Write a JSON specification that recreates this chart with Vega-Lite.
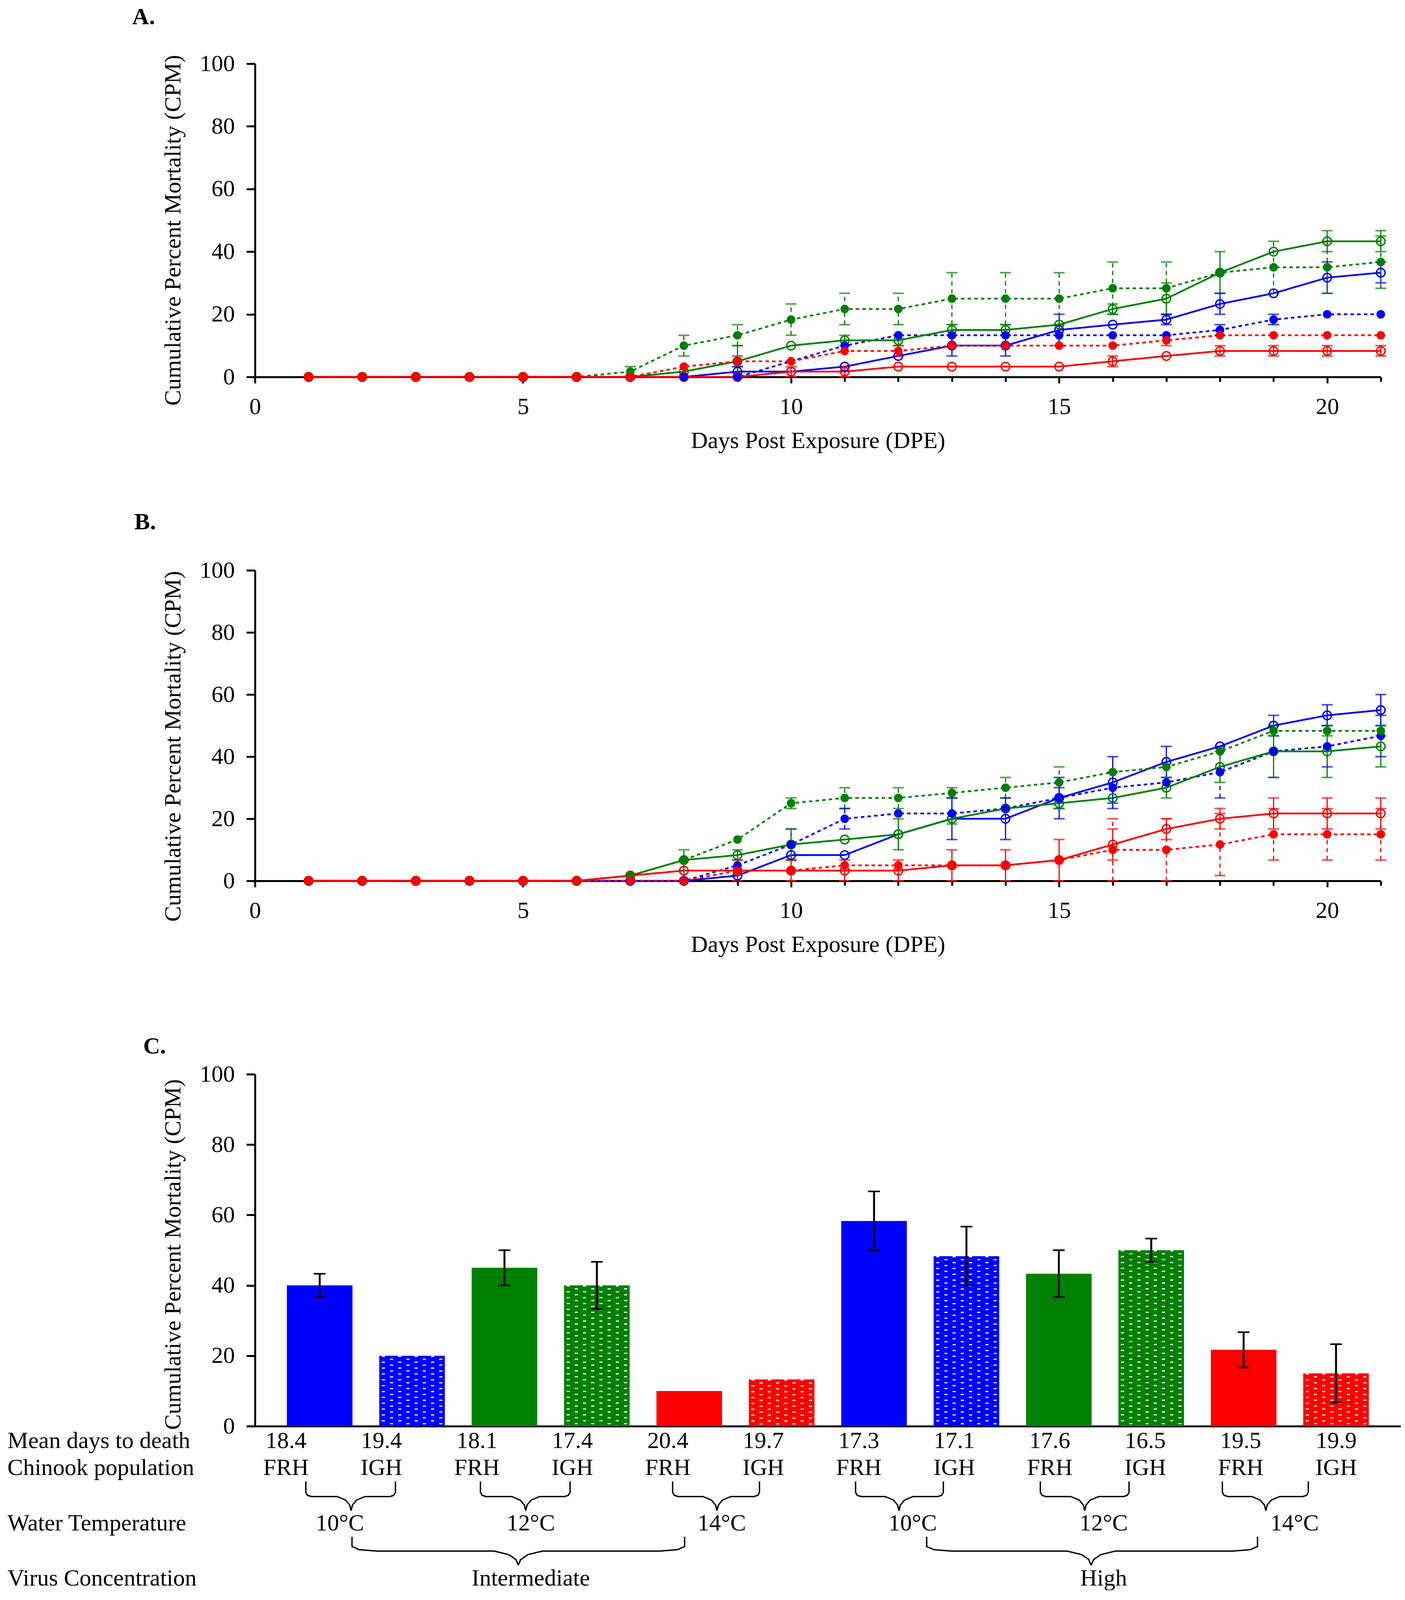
{
"$schema": "https://vega.github.io/schema/vega-lite/v6.json",
"background": "white",
"padding": {"left": 18, "top": 13, "right": 0, "bottom": 0},
"bounds": "flush",
"spacing": 495,
"resolve": {"scale": {"color": "independent"}},
"config": {
  "view": {"stroke": null},
  "font": "Liberation Serif",
  "axis": {"labelFont": "Liberation Serif", "titleFont": "Liberation Serif", "labelFontSize": 60, "titleFontSize": 60, "titleFontWeight": "normal", "labelColor": "#000", "titleColor": "#000", "domainColor": "#000", "tickColor": "#000", "domainWidth": 5, "tickWidth": 5, "grid": false, "labelFlush": false, "labelOverlap": false},
  "text": {"font": "Liberation Serif", "fontSize": 60, "color": "#000"}
},
"datasets": {
"curves": [
{"p":"A","s":"10°C FRH","pop":"FRH","d":1,"v":0},{"p":"A","s":"10°C FRH","pop":"FRH","d":2,"v":0},{"p":"A","s":"10°C FRH","pop":"FRH","d":3,"v":0},{"p":"A","s":"10°C FRH","pop":"FRH","d":4,"v":0},{"p":"A","s":"10°C FRH","pop":"FRH","d":5,"v":0},{"p":"A","s":"10°C FRH","pop":"FRH","d":6,"v":0},{"p":"A","s":"10°C FRH","pop":"FRH","d":7,"v":0},{"p":"A","s":"10°C FRH","pop":"FRH","d":8,"v":0},
{"p":"A","s":"10°C FRH","pop":"FRH","d":9,"v":1.7,"lo":0,"hi":3.3},{"p":"A","s":"10°C FRH","pop":"FRH","d":10,"v":1.7},{"p":"A","s":"10°C FRH","pop":"FRH","d":11,"v":3.3},{"p":"A","s":"10°C FRH","pop":"FRH","d":12,"v":6.7},
{"p":"A","s":"10°C FRH","pop":"FRH","d":13,"v":10,"lo":6.7,"hi":13.3},{"p":"A","s":"10°C FRH","pop":"FRH","d":14,"v":10,"lo":6.7,"hi":13.3},{"p":"A","s":"10°C FRH","pop":"FRH","d":15,"v":15,"lo":10,"hi":20},{"p":"A","s":"10°C FRH","pop":"FRH","d":16,"v":16.7},
{"p":"A","s":"10°C FRH","pop":"FRH","d":17,"v":18.3,"lo":16.7,"hi":20},{"p":"A","s":"10°C FRH","pop":"FRH","d":18,"v":23.3,"lo":20,"hi":26.7},{"p":"A","s":"10°C FRH","pop":"FRH","d":19,"v":26.7},{"p":"A","s":"10°C FRH","pop":"FRH","d":20,"v":31.7,"lo":26.7,"hi":36.7},{"p":"A","s":"10°C FRH","pop":"FRH","d":21,"v":33.3,"lo":30,"hi":36.7},

{"p":"A","s":"10°C IGH","pop":"IGH","d":1,"v":0},{"p":"A","s":"10°C IGH","pop":"IGH","d":2,"v":0},{"p":"A","s":"10°C IGH","pop":"IGH","d":3,"v":0},{"p":"A","s":"10°C IGH","pop":"IGH","d":4,"v":0},{"p":"A","s":"10°C IGH","pop":"IGH","d":5,"v":0},{"p":"A","s":"10°C IGH","pop":"IGH","d":6,"v":0},{"p":"A","s":"10°C IGH","pop":"IGH","d":7,"v":0},{"p":"A","s":"10°C IGH","pop":"IGH","d":8,"v":0},{"p":"A","s":"10°C IGH","pop":"IGH","d":9,"v":0},
{"p":"A","s":"10°C IGH","pop":"IGH","d":10,"v":5},{"p":"A","s":"10°C IGH","pop":"IGH","d":11,"v":10},{"p":"A","s":"10°C IGH","pop":"IGH","d":12,"v":13.3},{"p":"A","s":"10°C IGH","pop":"IGH","d":13,"v":13.3},{"p":"A","s":"10°C IGH","pop":"IGH","d":14,"v":13.3},{"p":"A","s":"10°C IGH","pop":"IGH","d":15,"v":13.3},{"p":"A","s":"10°C IGH","pop":"IGH","d":16,"v":13.3},{"p":"A","s":"10°C IGH","pop":"IGH","d":17,"v":13.3},
{"p":"A","s":"10°C IGH","pop":"IGH","d":18,"v":15,"lo":13.3,"hi":16.7},{"p":"A","s":"10°C IGH","pop":"IGH","d":19,"v":18.3,"lo":16.7,"hi":20},{"p":"A","s":"10°C IGH","pop":"IGH","d":20,"v":20},{"p":"A","s":"10°C IGH","pop":"IGH","d":21,"v":20},

{"p":"A","s":"12°C FRH","pop":"FRH","d":1,"v":0},{"p":"A","s":"12°C FRH","pop":"FRH","d":2,"v":0},{"p":"A","s":"12°C FRH","pop":"FRH","d":3,"v":0},{"p":"A","s":"12°C FRH","pop":"FRH","d":4,"v":0},{"p":"A","s":"12°C FRH","pop":"FRH","d":5,"v":0},{"p":"A","s":"12°C FRH","pop":"FRH","d":6,"v":0},{"p":"A","s":"12°C FRH","pop":"FRH","d":7,"v":0},
{"p":"A","s":"12°C FRH","pop":"FRH","d":8,"v":1.7},{"p":"A","s":"12°C FRH","pop":"FRH","d":9,"v":5,"lo":0,"hi":10},{"p":"A","s":"12°C FRH","pop":"FRH","d":10,"v":10},{"p":"A","s":"12°C FRH","pop":"FRH","d":11,"v":11.7,"lo":10,"hi":13.3},{"p":"A","s":"12°C FRH","pop":"FRH","d":12,"v":11.7,"lo":10,"hi":13.3},
{"p":"A","s":"12°C FRH","pop":"FRH","d":13,"v":15,"lo":13.3,"hi":16.7},{"p":"A","s":"12°C FRH","pop":"FRH","d":14,"v":15,"lo":13.3,"hi":16.7},{"p":"A","s":"12°C FRH","pop":"FRH","d":15,"v":16.7},{"p":"A","s":"12°C FRH","pop":"FRH","d":16,"v":21.7,"lo":20,"hi":23.3},
{"p":"A","s":"12°C FRH","pop":"FRH","d":17,"v":25,"lo":20,"hi":30},{"p":"A","s":"12°C FRH","pop":"FRH","d":18,"v":33.3,"lo":26.7,"hi":40},{"p":"A","s":"12°C FRH","pop":"FRH","d":19,"v":40},{"p":"A","s":"12°C FRH","pop":"FRH","d":20,"v":43.3,"lo":40,"hi":46.7},{"p":"A","s":"12°C FRH","pop":"FRH","d":21,"v":43.3,"lo":40,"hi":46.7},

{"p":"A","s":"12°C IGH","pop":"IGH","d":1,"v":0},{"p":"A","s":"12°C IGH","pop":"IGH","d":2,"v":0},{"p":"A","s":"12°C IGH","pop":"IGH","d":3,"v":0},{"p":"A","s":"12°C IGH","pop":"IGH","d":4,"v":0},{"p":"A","s":"12°C IGH","pop":"IGH","d":5,"v":0},{"p":"A","s":"12°C IGH","pop":"IGH","d":6,"v":0},
{"p":"A","s":"12°C IGH","pop":"IGH","d":7,"v":1.7,"lo":0,"hi":3.3},{"p":"A","s":"12°C IGH","pop":"IGH","d":8,"v":10,"lo":6.7,"hi":13.3},{"p":"A","s":"12°C IGH","pop":"IGH","d":9,"v":13.3,"lo":10,"hi":16.7},{"p":"A","s":"12°C IGH","pop":"IGH","d":10,"v":18.3,"lo":13.3,"hi":23.3},
{"p":"A","s":"12°C IGH","pop":"IGH","d":11,"v":21.7,"lo":16.7,"hi":26.7},{"p":"A","s":"12°C IGH","pop":"IGH","d":12,"v":21.7,"lo":16.7,"hi":26.7},{"p":"A","s":"12°C IGH","pop":"IGH","d":13,"v":25,"lo":16.7,"hi":33.3},{"p":"A","s":"12°C IGH","pop":"IGH","d":14,"v":25,"lo":16.7,"hi":33.3},
{"p":"A","s":"12°C IGH","pop":"IGH","d":15,"v":25,"lo":16.7,"hi":33.3},{"p":"A","s":"12°C IGH","pop":"IGH","d":16,"v":28.3,"lo":20,"hi":36.7},{"p":"A","s":"12°C IGH","pop":"IGH","d":17,"v":28.3,"lo":20,"hi":36.7},{"p":"A","s":"12°C IGH","pop":"IGH","d":18,"v":33.3},
{"p":"A","s":"12°C IGH","pop":"IGH","d":19,"v":35,"lo":26.7,"hi":43.3},{"p":"A","s":"12°C IGH","pop":"IGH","d":20,"v":35,"lo":26.7,"hi":43.3},{"p":"A","s":"12°C IGH","pop":"IGH","d":21,"v":36.7,"lo":28.3,"hi":45},

{"p":"A","s":"14°C FRH","pop":"FRH","d":1,"v":0},{"p":"A","s":"14°C FRH","pop":"FRH","d":2,"v":0},{"p":"A","s":"14°C FRH","pop":"FRH","d":3,"v":0},{"p":"A","s":"14°C FRH","pop":"FRH","d":4,"v":0},{"p":"A","s":"14°C FRH","pop":"FRH","d":5,"v":0},{"p":"A","s":"14°C FRH","pop":"FRH","d":6,"v":0},{"p":"A","s":"14°C FRH","pop":"FRH","d":7,"v":0},{"p":"A","s":"14°C FRH","pop":"FRH","d":8,"v":0},{"p":"A","s":"14°C FRH","pop":"FRH","d":9,"v":0},
{"p":"A","s":"14°C FRH","pop":"FRH","d":10,"v":1.7,"lo":0,"hi":3.3},{"p":"A","s":"14°C FRH","pop":"FRH","d":11,"v":1.7,"lo":0,"hi":3.3},{"p":"A","s":"14°C FRH","pop":"FRH","d":12,"v":3.3},{"p":"A","s":"14°C FRH","pop":"FRH","d":13,"v":3.3},{"p":"A","s":"14°C FRH","pop":"FRH","d":14,"v":3.3},{"p":"A","s":"14°C FRH","pop":"FRH","d":15,"v":3.3},
{"p":"A","s":"14°C FRH","pop":"FRH","d":16,"v":5,"lo":3.3,"hi":6.7},{"p":"A","s":"14°C FRH","pop":"FRH","d":17,"v":6.7},{"p":"A","s":"14°C FRH","pop":"FRH","d":18,"v":8.3,"lo":6.7,"hi":10},{"p":"A","s":"14°C FRH","pop":"FRH","d":19,"v":8.3,"lo":6.7,"hi":10},{"p":"A","s":"14°C FRH","pop":"FRH","d":20,"v":8.3,"lo":6.7,"hi":10},{"p":"A","s":"14°C FRH","pop":"FRH","d":21,"v":8.3,"lo":6.7,"hi":10},

{"p":"A","s":"14°C IGH","pop":"IGH","d":1,"v":0},{"p":"A","s":"14°C IGH","pop":"IGH","d":2,"v":0},{"p":"A","s":"14°C IGH","pop":"IGH","d":3,"v":0},{"p":"A","s":"14°C IGH","pop":"IGH","d":4,"v":0},{"p":"A","s":"14°C IGH","pop":"IGH","d":5,"v":0},{"p":"A","s":"14°C IGH","pop":"IGH","d":6,"v":0},{"p":"A","s":"14°C IGH","pop":"IGH","d":7,"v":0},
{"p":"A","s":"14°C IGH","pop":"IGH","d":8,"v":3.3},{"p":"A","s":"14°C IGH","pop":"IGH","d":9,"v":5,"lo":3.3,"hi":6.7},{"p":"A","s":"14°C IGH","pop":"IGH","d":10,"v":5},{"p":"A","s":"14°C IGH","pop":"IGH","d":11,"v":8.3},{"p":"A","s":"14°C IGH","pop":"IGH","d":12,"v":8.3,"lo":6.7,"hi":10},
{"p":"A","s":"14°C IGH","pop":"IGH","d":13,"v":10},{"p":"A","s":"14°C IGH","pop":"IGH","d":14,"v":10},{"p":"A","s":"14°C IGH","pop":"IGH","d":15,"v":10},{"p":"A","s":"14°C IGH","pop":"IGH","d":16,"v":10},{"p":"A","s":"14°C IGH","pop":"IGH","d":17,"v":11.7,"lo":10,"hi":13.3},
{"p":"A","s":"14°C IGH","pop":"IGH","d":18,"v":13.3},{"p":"A","s":"14°C IGH","pop":"IGH","d":19,"v":13.3},{"p":"A","s":"14°C IGH","pop":"IGH","d":20,"v":13.3},{"p":"A","s":"14°C IGH","pop":"IGH","d":21,"v":13.3},

{"p":"B","s":"10°C FRH","pop":"FRH","d":1,"v":0},{"p":"B","s":"10°C FRH","pop":"FRH","d":2,"v":0},{"p":"B","s":"10°C FRH","pop":"FRH","d":3,"v":0},{"p":"B","s":"10°C FRH","pop":"FRH","d":4,"v":0},{"p":"B","s":"10°C FRH","pop":"FRH","d":5,"v":0},{"p":"B","s":"10°C FRH","pop":"FRH","d":6,"v":0},{"p":"B","s":"10°C FRH","pop":"FRH","d":7,"v":0},{"p":"B","s":"10°C FRH","pop":"FRH","d":8,"v":0},
{"p":"B","s":"10°C FRH","pop":"FRH","d":9,"v":1.7},{"p":"B","s":"10°C FRH","pop":"FRH","d":10,"v":8.3},{"p":"B","s":"10°C FRH","pop":"FRH","d":11,"v":8.3},{"p":"B","s":"10°C FRH","pop":"FRH","d":12,"v":15},
{"p":"B","s":"10°C FRH","pop":"FRH","d":13,"v":20,"lo":13.3,"hi":26.7},{"p":"B","s":"10°C FRH","pop":"FRH","d":14,"v":20,"lo":13.3,"hi":26.7},{"p":"B","s":"10°C FRH","pop":"FRH","d":15,"v":26.7,"lo":20,"hi":33.3},{"p":"B","s":"10°C FRH","pop":"FRH","d":16,"v":31.7,"lo":23.3,"hi":40},
{"p":"B","s":"10°C FRH","pop":"FRH","d":17,"v":38.3,"lo":33.3,"hi":43.3},{"p":"B","s":"10°C FRH","pop":"FRH","d":18,"v":43.3},{"p":"B","s":"10°C FRH","pop":"FRH","d":19,"v":50,"lo":46.7,"hi":53.3},{"p":"B","s":"10°C FRH","pop":"FRH","d":20,"v":53.3,"lo":50,"hi":56.7},{"p":"B","s":"10°C FRH","pop":"FRH","d":21,"v":55,"lo":50,"hi":60},

{"p":"B","s":"10°C IGH","pop":"IGH","d":1,"v":0},{"p":"B","s":"10°C IGH","pop":"IGH","d":2,"v":0},{"p":"B","s":"10°C IGH","pop":"IGH","d":3,"v":0},{"p":"B","s":"10°C IGH","pop":"IGH","d":4,"v":0},{"p":"B","s":"10°C IGH","pop":"IGH","d":5,"v":0},{"p":"B","s":"10°C IGH","pop":"IGH","d":6,"v":0},{"p":"B","s":"10°C IGH","pop":"IGH","d":7,"v":0},{"p":"B","s":"10°C IGH","pop":"IGH","d":8,"v":0},
{"p":"B","s":"10°C IGH","pop":"IGH","d":9,"v":5},{"p":"B","s":"10°C IGH","pop":"IGH","d":10,"v":11.7,"lo":6.7,"hi":16.7},{"p":"B","s":"10°C IGH","pop":"IGH","d":11,"v":20,"lo":16.7,"hi":23.3},{"p":"B","s":"10°C IGH","pop":"IGH","d":12,"v":21.7},{"p":"B","s":"10°C IGH","pop":"IGH","d":13,"v":21.7},{"p":"B","s":"10°C IGH","pop":"IGH","d":14,"v":23.3},
{"p":"B","s":"10°C IGH","pop":"IGH","d":15,"v":26.7,"lo":23.3,"hi":30},{"p":"B","s":"10°C IGH","pop":"IGH","d":16,"v":30,"lo":25,"hi":35},{"p":"B","s":"10°C IGH","pop":"IGH","d":17,"v":31.7},{"p":"B","s":"10°C IGH","pop":"IGH","d":18,"v":35,"lo":26.7,"hi":43.3},
{"p":"B","s":"10°C IGH","pop":"IGH","d":19,"v":41.7,"lo":33.3,"hi":50},{"p":"B","s":"10°C IGH","pop":"IGH","d":20,"v":43.3,"lo":36.7,"hi":50},{"p":"B","s":"10°C IGH","pop":"IGH","d":21,"v":46.7,"lo":40,"hi":53.3},

{"p":"B","s":"12°C FRH","pop":"FRH","d":1,"v":0},{"p":"B","s":"12°C FRH","pop":"FRH","d":2,"v":0},{"p":"B","s":"12°C FRH","pop":"FRH","d":3,"v":0},{"p":"B","s":"12°C FRH","pop":"FRH","d":4,"v":0},{"p":"B","s":"12°C FRH","pop":"FRH","d":5,"v":0},{"p":"B","s":"12°C FRH","pop":"FRH","d":6,"v":0},
{"p":"B","s":"12°C FRH","pop":"FRH","d":7,"v":1.7},{"p":"B","s":"12°C FRH","pop":"FRH","d":8,"v":6.7},{"p":"B","s":"12°C FRH","pop":"FRH","d":9,"v":8.3,"lo":6.7,"hi":10},{"p":"B","s":"12°C FRH","pop":"FRH","d":10,"v":11.7,"lo":6.7,"hi":16.7},{"p":"B","s":"12°C FRH","pop":"FRH","d":11,"v":13.3},
{"p":"B","s":"12°C FRH","pop":"FRH","d":12,"v":15,"lo":10,"hi":20},{"p":"B","s":"12°C FRH","pop":"FRH","d":13,"v":20,"lo":18.3,"hi":21.7},{"p":"B","s":"12°C FRH","pop":"FRH","d":14,"v":23.3},{"p":"B","s":"12°C FRH","pop":"FRH","d":15,"v":25,"lo":23.3,"hi":26.7},{"p":"B","s":"12°C FRH","pop":"FRH","d":16,"v":26.7},
{"p":"B","s":"12°C FRH","pop":"FRH","d":17,"v":30,"lo":26.7,"hi":33.3},{"p":"B","s":"12°C FRH","pop":"FRH","d":18,"v":36.7,"lo":31.7,"hi":41.7},{"p":"B","s":"12°C FRH","pop":"FRH","d":19,"v":41.7,"lo":33.3,"hi":50},{"p":"B","s":"12°C FRH","pop":"FRH","d":20,"v":41.7,"lo":33.3,"hi":50},{"p":"B","s":"12°C FRH","pop":"FRH","d":21,"v":43.3,"lo":36.7,"hi":50},

{"p":"B","s":"12°C IGH","pop":"IGH","d":1,"v":0},{"p":"B","s":"12°C IGH","pop":"IGH","d":2,"v":0},{"p":"B","s":"12°C IGH","pop":"IGH","d":3,"v":0},{"p":"B","s":"12°C IGH","pop":"IGH","d":4,"v":0},{"p":"B","s":"12°C IGH","pop":"IGH","d":5,"v":0},{"p":"B","s":"12°C IGH","pop":"IGH","d":6,"v":0},
{"p":"B","s":"12°C IGH","pop":"IGH","d":7,"v":1.7},{"p":"B","s":"12°C IGH","pop":"IGH","d":8,"v":6.7,"lo":3.3,"hi":10},{"p":"B","s":"12°C IGH","pop":"IGH","d":9,"v":13.3},{"p":"B","s":"12°C IGH","pop":"IGH","d":10,"v":25,"lo":23.3,"hi":26.7},
{"p":"B","s":"12°C IGH","pop":"IGH","d":11,"v":26.7,"lo":23.3,"hi":30},{"p":"B","s":"12°C IGH","pop":"IGH","d":12,"v":26.7,"lo":23.3,"hi":30},{"p":"B","s":"12°C IGH","pop":"IGH","d":13,"v":28.3,"lo":26.7,"hi":30},{"p":"B","s":"12°C IGH","pop":"IGH","d":14,"v":30,"lo":26.7,"hi":33.3},
{"p":"B","s":"12°C IGH","pop":"IGH","d":15,"v":31.7,"lo":26.7,"hi":36.7},{"p":"B","s":"12°C IGH","pop":"IGH","d":16,"v":35},{"p":"B","s":"12°C IGH","pop":"IGH","d":17,"v":36.7},{"p":"B","s":"12°C IGH","pop":"IGH","d":18,"v":41.7},
{"p":"B","s":"12°C IGH","pop":"IGH","d":19,"v":48.3,"lo":46.7,"hi":50},{"p":"B","s":"12°C IGH","pop":"IGH","d":20,"v":48.3,"lo":46.7,"hi":50},{"p":"B","s":"12°C IGH","pop":"IGH","d":21,"v":48.3,"lo":46.7,"hi":50},

{"p":"B","s":"14°C FRH","pop":"FRH","d":1,"v":0},{"p":"B","s":"14°C FRH","pop":"FRH","d":2,"v":0},{"p":"B","s":"14°C FRH","pop":"FRH","d":3,"v":0},{"p":"B","s":"14°C FRH","pop":"FRH","d":4,"v":0},{"p":"B","s":"14°C FRH","pop":"FRH","d":5,"v":0},{"p":"B","s":"14°C FRH","pop":"FRH","d":6,"v":0},
{"p":"B","s":"14°C FRH","pop":"FRH","d":7,"v":1.7},{"p":"B","s":"14°C FRH","pop":"FRH","d":8,"v":3.3,"lo":0,"hi":6.7},{"p":"B","s":"14°C FRH","pop":"FRH","d":9,"v":3.3,"lo":0,"hi":6.7},{"p":"B","s":"14°C FRH","pop":"FRH","d":10,"v":3.3,"lo":0,"hi":6.7},{"p":"B","s":"14°C FRH","pop":"FRH","d":11,"v":3.3,"lo":0,"hi":6.7},
{"p":"B","s":"14°C FRH","pop":"FRH","d":12,"v":3.3,"lo":0,"hi":6.7},{"p":"B","s":"14°C FRH","pop":"FRH","d":13,"v":5,"lo":0,"hi":10},{"p":"B","s":"14°C FRH","pop":"FRH","d":14,"v":5,"lo":0,"hi":10},{"p":"B","s":"14°C FRH","pop":"FRH","d":15,"v":6.7,"lo":0,"hi":13.3},
{"p":"B","s":"14°C FRH","pop":"FRH","d":16,"v":11.7,"lo":6.7,"hi":16.7},{"p":"B","s":"14°C FRH","pop":"FRH","d":17,"v":16.7,"lo":13.3,"hi":20},{"p":"B","s":"14°C FRH","pop":"FRH","d":18,"v":20,"lo":16.7,"hi":23.3},
{"p":"B","s":"14°C FRH","pop":"FRH","d":19,"v":21.7,"lo":16.7,"hi":26.7},{"p":"B","s":"14°C FRH","pop":"FRH","d":20,"v":21.7,"lo":16.7,"hi":26.7},{"p":"B","s":"14°C FRH","pop":"FRH","d":21,"v":21.7,"lo":16.7,"hi":26.7},

{"p":"B","s":"14°C IGH","pop":"IGH","d":1,"v":0},{"p":"B","s":"14°C IGH","pop":"IGH","d":2,"v":0},{"p":"B","s":"14°C IGH","pop":"IGH","d":3,"v":0},{"p":"B","s":"14°C IGH","pop":"IGH","d":4,"v":0},{"p":"B","s":"14°C IGH","pop":"IGH","d":5,"v":0},{"p":"B","s":"14°C IGH","pop":"IGH","d":6,"v":0},{"p":"B","s":"14°C IGH","pop":"IGH","d":7,"v":0},{"p":"B","s":"14°C IGH","pop":"IGH","d":8,"v":0},
{"p":"B","s":"14°C IGH","pop":"IGH","d":9,"v":3.3},{"p":"B","s":"14°C IGH","pop":"IGH","d":10,"v":3.3},{"p":"B","s":"14°C IGH","pop":"IGH","d":11,"v":5},{"p":"B","s":"14°C IGH","pop":"IGH","d":12,"v":5},{"p":"B","s":"14°C IGH","pop":"IGH","d":13,"v":5},{"p":"B","s":"14°C IGH","pop":"IGH","d":14,"v":5},{"p":"B","s":"14°C IGH","pop":"IGH","d":15,"v":6.7},
{"p":"B","s":"14°C IGH","pop":"IGH","d":16,"v":10,"lo":0,"hi":20},{"p":"B","s":"14°C IGH","pop":"IGH","d":17,"v":10,"lo":0,"hi":20},{"p":"B","s":"14°C IGH","pop":"IGH","d":18,"v":11.7,"lo":1.7,"hi":21.7},
{"p":"B","s":"14°C IGH","pop":"IGH","d":19,"v":15,"lo":6.7,"hi":23.3},{"p":"B","s":"14°C IGH","pop":"IGH","d":20,"v":15,"lo":6.7,"hi":23.3},{"p":"B","s":"14°C IGH","pop":"IGH","d":21,"v":15,"lo":6.7,"hi":23.3}
],
"bars": [
{"conc":"Intermediate","temp":"10°C","pop":"FRH","g":"Intermediate 10°C FRH","cpm":40,"lo":36.7,"hi":43.3,"mdd":18.4},
{"conc":"Intermediate","temp":"10°C","pop":"IGH","g":"Intermediate 10°C IGH","cpm":20,"mdd":19.4},
{"conc":"Intermediate","temp":"12°C","pop":"FRH","g":"Intermediate 12°C FRH","cpm":45,"lo":40,"hi":50,"mdd":18.1},
{"conc":"Intermediate","temp":"12°C","pop":"IGH","g":"Intermediate 12°C IGH","cpm":40,"lo":33.3,"hi":46.7,"mdd":17.4},
{"conc":"Intermediate","temp":"14°C","pop":"FRH","g":"Intermediate 14°C FRH","cpm":10,"mdd":20.4},
{"conc":"Intermediate","temp":"14°C","pop":"IGH","g":"Intermediate 14°C IGH","cpm":13.3,"mdd":19.7},
{"conc":"High","temp":"10°C","pop":"FRH","g":"High 10°C FRH","cpm":58.3,"lo":50,"hi":66.7,"mdd":17.3},
{"conc":"High","temp":"10°C","pop":"IGH","g":"High 10°C IGH","cpm":48.3,"lo":40,"hi":56.7,"mdd":17.1},
{"conc":"High","temp":"12°C","pop":"FRH","g":"High 12°C FRH","cpm":43.3,"lo":36.7,"hi":50,"mdd":17.6},
{"conc":"High","temp":"12°C","pop":"IGH","g":"High 12°C IGH","cpm":50,"lo":46.7,"hi":53.3,"mdd":16.5},
{"conc":"High","temp":"14°C","pop":"FRH","g":"High 14°C FRH","cpm":21.7,"lo":16.7,"hi":26.7,"mdd":19.5},
{"conc":"High","temp":"14°C","pop":"IGH","g":"High 14°C IGH","cpm":15,"lo":6.7,"hi":23.3,"mdd":19.9}
],
"braces": [
{"b":"s1L","u":-0.15,"y":-15.7},{"b":"s1L","u":-0.15,"y":-18.8},{"b":"s1L","u":-0.132,"y":-19.64},{"b":"s1L","u":-0.09,"y":-20},{"b":"s1L","u":0.19,"y":-20},{"b":"s1L","u":0.28,"y":-21},{"b":"s1L","u":0.325,"y":-22.4},{"b":"s1L","u":0.34,"y":-24},
{"b":"s1R","u":0.82,"y":-15.7},{"b":"s1R","u":0.82,"y":-18.8},{"b":"s1R","u":0.802,"y":-19.64},{"b":"s1R","u":0.76,"y":-20},{"b":"s1R","u":0.49,"y":-20},{"b":"s1R","u":0.40,"y":-21},{"b":"s1R","u":0.355,"y":-22.4},{"b":"s1R","u":0.34,"y":-24},
{"b":"s2L","u":1.74,"y":-15.7},{"b":"s2L","u":1.74,"y":-18.8},{"b":"s2L","u":1.758,"y":-19.64},{"b":"s2L","u":1.80,"y":-20},{"b":"s2L","u":2.08,"y":-20},{"b":"s2L","u":2.17,"y":-21},{"b":"s2L","u":2.215,"y":-22.4},{"b":"s2L","u":2.23,"y":-24},
{"b":"s2R","u":2.71,"y":-15.7},{"b":"s2R","u":2.71,"y":-18.8},{"b":"s2R","u":2.692,"y":-19.64},{"b":"s2R","u":2.65,"y":-20},{"b":"s2R","u":2.38,"y":-20},{"b":"s2R","u":2.29,"y":-21},{"b":"s2R","u":2.245,"y":-22.4},{"b":"s2R","u":2.23,"y":-24},
{"b":"s3L","u":3.82,"y":-15.7},{"b":"s3L","u":3.82,"y":-18.8},{"b":"s3L","u":3.838,"y":-19.64},{"b":"s3L","u":3.88,"y":-20},{"b":"s3L","u":4.15,"y":-20},{"b":"s3L","u":4.24,"y":-21},{"b":"s3L","u":4.285,"y":-22.4},{"b":"s3L","u":4.30,"y":-24},
{"b":"s3R","u":4.76,"y":-15.7},{"b":"s3R","u":4.76,"y":-18.8},{"b":"s3R","u":4.742,"y":-19.64},{"b":"s3R","u":4.70,"y":-20},{"b":"s3R","u":4.45,"y":-20},{"b":"s3R","u":4.36,"y":-21},{"b":"s3R","u":4.315,"y":-22.4},{"b":"s3R","u":4.30,"y":-24},
{"b":"s4L","u":5.80,"y":-15.7},{"b":"s4L","u":5.80,"y":-18.8},{"b":"s4L","u":5.818,"y":-19.64},{"b":"s4L","u":5.86,"y":-20},{"b":"s4L","u":6.12,"y":-20},{"b":"s4L","u":6.21,"y":-21},{"b":"s4L","u":6.255,"y":-22.4},{"b":"s4L","u":6.27,"y":-24},
{"b":"s4R","u":6.75,"y":-15.7},{"b":"s4R","u":6.75,"y":-18.8},{"b":"s4R","u":6.732,"y":-19.64},{"b":"s4R","u":6.69,"y":-20},{"b":"s4R","u":6.42,"y":-20},{"b":"s4R","u":6.33,"y":-21},{"b":"s4R","u":6.285,"y":-22.4},{"b":"s4R","u":6.27,"y":-24},
{"b":"s5L","u":7.80,"y":-15.7},{"b":"s5L","u":7.80,"y":-18.8},{"b":"s5L","u":7.818,"y":-19.64},{"b":"s5L","u":7.86,"y":-20},{"b":"s5L","u":8.13,"y":-20},{"b":"s5L","u":8.22,"y":-21},{"b":"s5L","u":8.265,"y":-22.4},{"b":"s5L","u":8.28,"y":-24},
{"b":"s5R","u":8.76,"y":-15.7},{"b":"s5R","u":8.76,"y":-18.8},{"b":"s5R","u":8.742,"y":-19.64},{"b":"s5R","u":8.70,"y":-20},{"b":"s5R","u":8.43,"y":-20},{"b":"s5R","u":8.34,"y":-21},{"b":"s5R","u":8.295,"y":-22.4},{"b":"s5R","u":8.28,"y":-24},
{"b":"s6L","u":9.77,"y":-15.7},{"b":"s6L","u":9.77,"y":-18.8},{"b":"s6L","u":9.788,"y":-19.64},{"b":"s6L","u":9.83,"y":-20},{"b":"s6L","u":10.09,"y":-20},{"b":"s6L","u":10.18,"y":-21},{"b":"s6L","u":10.225,"y":-22.4},{"b":"s6L","u":10.24,"y":-24},
{"b":"s6R","u":10.70,"y":-15.7},{"b":"s6R","u":10.70,"y":-18.8},{"b":"s6R","u":10.682,"y":-19.64},{"b":"s6R","u":10.64,"y":-20},{"b":"s6R","u":10.39,"y":-20},{"b":"s6R","u":10.30,"y":-21},{"b":"s6R","u":10.255,"y":-22.4},{"b":"s6R","u":10.24,"y":-24},
{"b":"b1L","u":0.35,"y":-31.4},{"b":"b1L","u":0.35,"y":-34.2},{"b":"b1L","u":0.43,"y":-35.11},{"b":"b1L","u":0.62,"y":-35.5},{"b":"b1L","u":1.89,"y":-35.5},{"b":"b1L","u":2.046,"y":-36.5},{"b":"b1L","u":2.124,"y":-37.9},{"b":"b1L","u":2.15,"y":-39.5},
{"b":"b1R","u":3.95,"y":-31.4},{"b":"b1R","u":3.95,"y":-34.2},{"b":"b1R","u":3.87,"y":-35.11},{"b":"b1R","u":3.68,"y":-35.5},{"b":"b1R","u":2.41,"y":-35.5},{"b":"b1R","u":2.254,"y":-36.5},{"b":"b1R","u":2.176,"y":-37.9},{"b":"b1R","u":2.15,"y":-39.5},
{"b":"b2L","u":6.57,"y":-31.4},{"b":"b2L","u":6.57,"y":-34.2},{"b":"b2L","u":6.65,"y":-35.11},{"b":"b2L","u":6.84,"y":-35.5},{"b":"b2L","u":8.09,"y":-35.5},{"b":"b2L","u":8.246,"y":-36.5},{"b":"b2L","u":8.324,"y":-37.9},{"b":"b2L","u":8.35,"y":-39.5},
{"b":"b2R","u":10.15,"y":-31.4},{"b":"b2R","u":10.15,"y":-34.2},{"b":"b2R","u":10.07,"y":-35.11},{"b":"b2R","u":9.88,"y":-35.5},{"b":"b2R","u":8.61,"y":-35.5},{"b":"b2R","u":8.454,"y":-36.5},{"b":"b2R","u":8.376,"y":-37.9},{"b":"b2R","u":8.35,"y":-39.5}
]
},
"vconcat": [
{
 "width": 2883, "height": 802,
 "resolve": {"axis": {"x": "independent"}},
 "layer": [
  {"data": {"name": "curves"}, "transform": [{"filter": "datum.p === 'A'"}],
   "mark": {"type": "line", "strokeWidth": 4.5},
   "encoding": {
    "x": {"field": "d", "type": "quantitative", "scale": {"domain": [0, 21], "nice": false, "zero": false}, "axis": {"orient": "bottom", "values": [0, 5, 10, 15, 20], "tickSize": 16, "labelPadding": 31, "title": "Days Post Exposure (DPE)", "titlePadding": 28}},
    "y": {"field": "v", "type": "quantitative", "scale": {"domain": [0, 100], "nice": false}, "axis": {"values": [0, 20, 40, 60, 80, 100], "tickSize": 22, "labelPadding": 30, "title": "Cumulative Percent Mortality (CPM)", "titlePadding": 37, "titleY": 426}},
    "color": {"field": "s", "type": "nominal", "scale": {"domain": ["10°C FRH", "10°C IGH", "12°C FRH", "12°C IGH", "14°C FRH", "14°C IGH"], "range": ["#0000ff", "#0000ff", "#008000", "#008000", "#ff0000", "#ff0000"]}, "legend": null},
    "strokeDash": {"condition": {"test": "datum.pop === 'IGH'", "value": [9, 8]}, "value": [1, 0]}
   }},
  {"data": {"name": "curves"}, "transform": [{"filter": "datum.p === 'A' && isValid(datum.lo)"}],
   "mark": {"type": "rule", "strokeWidth": 3},
   "encoding": {
    "x": {"field": "d", "type": "quantitative", "axis": {"orient": "bottom", "values": [0,1,2,3,4,5,6,7,8,9,10,11,12,13,14,15,16,17,18,19,20,21], "tickSize": 12, "labels": false, "domain": false, "title": null}},
    "y": {"field": "lo", "type": "quantitative"},
    "y2": {"field": "hi"},
    "color": {"field": "s", "type": "nominal", "legend": null},
    "strokeDash": {"condition": {"test": "datum.pop === 'IGH'", "value": [11, 9]}, "value": [1, 0]}
   }},
  {"data": {"name": "curves"}, "transform": [{"filter": "datum.p === 'A' && isValid(datum.lo)"}],
   "mark": {"type": "tick", "orient": "horizontal", "size": 28, "thickness": 4},
   "encoding": {"x": {"field": "d", "type": "quantitative", "axis": null}, "y": {"field": "lo", "type": "quantitative"}, "color": {"field": "s", "type": "nominal", "legend": null}}},
  {"data": {"name": "curves"}, "transform": [{"filter": "datum.p === 'A' && isValid(datum.hi)"}],
   "mark": {"type": "tick", "orient": "horizontal", "size": 28, "thickness": 4},
   "encoding": {"x": {"field": "d", "type": "quantitative", "axis": null}, "y": {"field": "hi", "type": "quantitative"}, "color": {"field": "s", "type": "nominal", "legend": null}}},
  {"data": {"name": "curves"}, "transform": [{"filter": "datum.p === 'A' && datum.pop === 'FRH'"}],
   "mark": {"type": "point", "shape": "circle", "filled": false, "size": 480, "strokeWidth": 3.5, "opacity": 1},
   "encoding": {"x": {"field": "d", "type": "quantitative", "axis": null}, "y": {"field": "v", "type": "quantitative"}, "color": {"field": "s", "type": "nominal", "legend": null}}},
  {"data": {"name": "curves"}, "transform": [{"filter": "datum.p === 'A' && datum.pop === 'IGH'"}],
   "mark": {"type": "point", "shape": "circle", "filled": true, "size": 480, "opacity": 1},
   "encoding": {"x": {"field": "d", "type": "quantitative", "axis": null}, "y": {"field": "v", "type": "quantitative"}, "color": {"field": "s", "type": "nominal", "legend": null}}},
  {"data": {"values": [{"t": "A."}]},
   "mark": {"type": "text", "fontWeight": "bold", "fontSize": 60, "align": "left", "baseline": "alphabetic"},
   "encoding": {"x": {"datum": -2.29, "type": "quantitative", "axis": null}, "y": {"datum": 112.6, "type": "quantitative"}, "text": {"field": "t"}}}
 ]
},
{
 "width": 2883, "height": 795,
 "resolve": {"axis": {"x": "independent"}},
 "layer": [
  {"data": {"name": "curves"}, "transform": [{"filter": "datum.p === 'B'"}],
   "mark": {"type": "line", "strokeWidth": 4.5},
   "encoding": {
    "x": {"field": "d", "type": "quantitative", "scale": {"domain": [0, 21], "nice": false, "zero": false}, "axis": {"orient": "bottom", "values": [0, 5, 10, 15, 20], "tickSize": 16, "labelPadding": 31, "title": "Days Post Exposure (DPE)", "titlePadding": 28}},
    "y": {"field": "v", "type": "quantitative", "scale": {"domain": [0, 100], "nice": false}, "axis": {"values": [0, 20, 40, 60, 80, 100], "tickSize": 22, "labelPadding": 30, "title": "Cumulative Percent Mortality (CPM)", "titlePadding": 37, "titleY": 450}},
    "color": {"field": "s", "type": "nominal", "scale": {"domain": ["10°C FRH", "10°C IGH", "12°C FRH", "12°C IGH", "14°C FRH", "14°C IGH"], "range": ["#0000ff", "#0000ff", "#008000", "#008000", "#ff0000", "#ff0000"]}, "legend": null},
    "strokeDash": {"condition": {"test": "datum.pop === 'IGH'", "value": [9, 8]}, "value": [1, 0]}
   }},
  {"data": {"name": "curves"}, "transform": [{"filter": "datum.p === 'B' && isValid(datum.lo)"}],
   "mark": {"type": "rule", "strokeWidth": 3},
   "encoding": {
    "x": {"field": "d", "type": "quantitative", "axis": {"orient": "bottom", "values": [0,1,2,3,4,5,6,7,8,9,10,11,12,13,14,15,16,17,18,19,20,21], "tickSize": 12, "labels": false, "domain": false, "title": null}},
    "y": {"field": "lo", "type": "quantitative"},
    "y2": {"field": "hi"},
    "color": {"field": "s", "type": "nominal", "legend": null},
    "strokeDash": {"condition": {"test": "datum.pop === 'IGH'", "value": [11, 9]}, "value": [1, 0]}
   }},
  {"data": {"name": "curves"}, "transform": [{"filter": "datum.p === 'B' && isValid(datum.lo)"}],
   "mark": {"type": "tick", "orient": "horizontal", "size": 28, "thickness": 4},
   "encoding": {"x": {"field": "d", "type": "quantitative", "axis": null}, "y": {"field": "lo", "type": "quantitative"}, "color": {"field": "s", "type": "nominal", "legend": null}}},
  {"data": {"name": "curves"}, "transform": [{"filter": "datum.p === 'B' && isValid(datum.hi)"}],
   "mark": {"type": "tick", "orient": "horizontal", "size": 28, "thickness": 4},
   "encoding": {"x": {"field": "d", "type": "quantitative", "axis": null}, "y": {"field": "hi", "type": "quantitative"}, "color": {"field": "s", "type": "nominal", "legend": null}}},
  {"data": {"name": "curves"}, "transform": [{"filter": "datum.p === 'B' && datum.pop === 'FRH'"}],
   "mark": {"type": "point", "shape": "circle", "filled": false, "size": 480, "strokeWidth": 3.5, "opacity": 1},
   "encoding": {"x": {"field": "d", "type": "quantitative", "axis": null}, "y": {"field": "v", "type": "quantitative"}, "color": {"field": "s", "type": "nominal", "legend": null}}},
  {"data": {"name": "curves"}, "transform": [{"filter": "datum.p === 'B' && datum.pop === 'IGH'"}],
   "mark": {"type": "point", "shape": "circle", "filled": true, "size": 480, "opacity": 1},
   "encoding": {"x": {"field": "d", "type": "quantitative", "axis": null}, "y": {"field": "v", "type": "quantitative"}, "color": {"field": "s", "type": "nominal", "legend": null}}},
  {"data": {"values": [{"t": "B."}]},
   "mark": {"type": "text", "fontWeight": "bold", "fontSize": 60, "align": "left", "baseline": "alphabetic"},
   "encoding": {"x": {"datum": -2.25, "type": "quantitative", "axis": null}, "y": {"datum": 113.2, "type": "quantitative"}, "text": {"field": "t"}}}
 ]
},
{
 "width": 2934, "height": 901,
 "resolve": {"scale": {"x": "independent"}},
 "layer": [
  {"data": {"name": "bars"},
   "mark": {"type": "bar"},
   "encoding": {
    "x": {"field": "g", "type": "nominal", "scale": {"domain": ["Intermediate 10°C FRH","Intermediate 10°C IGH","Intermediate 12°C FRH","Intermediate 12°C IGH","Intermediate 14°C FRH","Intermediate 14°C IGH","High 10°C FRH","High 10°C IGH","High 12°C FRH","High 12°C IGH","High 14°C FRH","High 14°C IGH"], "paddingInner": 0.29, "paddingOuter": 0.345}, "axis": {"labels": false, "ticks": false, "title": null, "domain": true}},
    "y": {"field": "cpm", "type": "quantitative", "scale": {"domain": [0, 100], "nice": false}, "axis": {"values": [0, 20, 40, 60, 80, 100], "tickSize": 22, "labelPadding": 30, "title": "Cumulative Percent Mortality (CPM)", "titlePadding": 37, "titleY": 461}},
    "color": {"field": "temp", "type": "nominal", "scale": {"domain": ["10°C", "12°C", "14°C"], "range": ["#0000ff", "#008000", "#ff0000"]}, "legend": null}
   }},
  {"data": {"name": "bars"}, "transform": [{"filter": "datum.pop === 'IGH'"}],
   "mark": {"type": "rule", "color": "white", "strokeWidth": 8, "strokeDash": [3, 12], "strokeDashOffset": 0, "xOffset": -73.5},
   "encoding": {"x": {"field": "g", "type": "nominal", "scale": {"domain": ["Intermediate 10°C FRH","Intermediate 10°C IGH","Intermediate 12°C FRH","Intermediate 12°C IGH","Intermediate 14°C FRH","Intermediate 14°C IGH","High 10°C FRH","High 10°C IGH","High 12°C FRH","High 12°C IGH","High 14°C FRH","High 14°C IGH"], "paddingInner": 0.29, "paddingOuter": 0.345}, "axis": null}, "y": {"field": "cpm", "type": "quantitative"}, "y2": {"datum": 0}}},
  {"data": {"name": "bars"}, "transform": [{"filter": "datum.pop === 'IGH'"}],
   "mark": {"type": "rule", "color": "white", "strokeWidth": 8, "strokeDash": [3, 12], "strokeDashOffset": 7.5, "xOffset": -52.5},
   "encoding": {"x": {"field": "g", "type": "nominal", "scale": {"domain": ["Intermediate 10°C FRH","Intermediate 10°C IGH","Intermediate 12°C FRH","Intermediate 12°C IGH","Intermediate 14°C FRH","Intermediate 14°C IGH","High 10°C FRH","High 10°C IGH","High 12°C FRH","High 12°C IGH","High 14°C FRH","High 14°C IGH"], "paddingInner": 0.29, "paddingOuter": 0.345}, "axis": null}, "y": {"field": "cpm", "type": "quantitative"}, "y2": {"datum": 0}}},
  {"data": {"name": "bars"}, "transform": [{"filter": "datum.pop === 'IGH'"}],
   "mark": {"type": "rule", "color": "white", "strokeWidth": 8, "strokeDash": [3, 12], "strokeDashOffset": 0, "xOffset": -31.5},
   "encoding": {"x": {"field": "g", "type": "nominal", "scale": {"domain": ["Intermediate 10°C FRH","Intermediate 10°C IGH","Intermediate 12°C FRH","Intermediate 12°C IGH","Intermediate 14°C FRH","Intermediate 14°C IGH","High 10°C FRH","High 10°C IGH","High 12°C FRH","High 12°C IGH","High 14°C FRH","High 14°C IGH"], "paddingInner": 0.29, "paddingOuter": 0.345}, "axis": null}, "y": {"field": "cpm", "type": "quantitative"}, "y2": {"datum": 0}}},
  {"data": {"name": "bars"}, "transform": [{"filter": "datum.pop === 'IGH'"}],
   "mark": {"type": "rule", "color": "white", "strokeWidth": 8, "strokeDash": [3, 12], "strokeDashOffset": 7.5, "xOffset": -10.5},
   "encoding": {"x": {"field": "g", "type": "nominal", "scale": {"domain": ["Intermediate 10°C FRH","Intermediate 10°C IGH","Intermediate 12°C FRH","Intermediate 12°C IGH","Intermediate 14°C FRH","Intermediate 14°C IGH","High 10°C FRH","High 10°C IGH","High 12°C FRH","High 12°C IGH","High 14°C FRH","High 14°C IGH"], "paddingInner": 0.29, "paddingOuter": 0.345}, "axis": null}, "y": {"field": "cpm", "type": "quantitative"}, "y2": {"datum": 0}}},
  {"data": {"name": "bars"}, "transform": [{"filter": "datum.pop === 'IGH'"}],
   "mark": {"type": "rule", "color": "white", "strokeWidth": 8, "strokeDash": [3, 12], "strokeDashOffset": 0, "xOffset": 10.5},
   "encoding": {"x": {"field": "g", "type": "nominal", "scale": {"domain": ["Intermediate 10°C FRH","Intermediate 10°C IGH","Intermediate 12°C FRH","Intermediate 12°C IGH","Intermediate 14°C FRH","Intermediate 14°C IGH","High 10°C FRH","High 10°C IGH","High 12°C FRH","High 12°C IGH","High 14°C FRH","High 14°C IGH"], "paddingInner": 0.29, "paddingOuter": 0.345}, "axis": null}, "y": {"field": "cpm", "type": "quantitative"}, "y2": {"datum": 0}}},
  {"data": {"name": "bars"}, "transform": [{"filter": "datum.pop === 'IGH'"}],
   "mark": {"type": "rule", "color": "white", "strokeWidth": 8, "strokeDash": [3, 12], "strokeDashOffset": 7.5, "xOffset": 31.5},
   "encoding": {"x": {"field": "g", "type": "nominal", "scale": {"domain": ["Intermediate 10°C FRH","Intermediate 10°C IGH","Intermediate 12°C FRH","Intermediate 12°C IGH","Intermediate 14°C FRH","Intermediate 14°C IGH","High 10°C FRH","High 10°C IGH","High 12°C FRH","High 12°C IGH","High 14°C FRH","High 14°C IGH"], "paddingInner": 0.29, "paddingOuter": 0.345}, "axis": null}, "y": {"field": "cpm", "type": "quantitative"}, "y2": {"datum": 0}}},
  {"data": {"name": "bars"}, "transform": [{"filter": "datum.pop === 'IGH'"}],
   "mark": {"type": "rule", "color": "white", "strokeWidth": 8, "strokeDash": [3, 12], "strokeDashOffset": 0, "xOffset": 52.5},
   "encoding": {"x": {"field": "g", "type": "nominal", "scale": {"domain": ["Intermediate 10°C FRH","Intermediate 10°C IGH","Intermediate 12°C FRH","Intermediate 12°C IGH","Intermediate 14°C FRH","Intermediate 14°C IGH","High 10°C FRH","High 10°C IGH","High 12°C FRH","High 12°C IGH","High 14°C FRH","High 14°C IGH"], "paddingInner": 0.29, "paddingOuter": 0.345}, "axis": null}, "y": {"field": "cpm", "type": "quantitative"}, "y2": {"datum": 0}}},
  {"data": {"name": "bars"}, "transform": [{"filter": "datum.pop === 'IGH'"}],
   "mark": {"type": "rule", "color": "white", "strokeWidth": 8, "strokeDash": [3, 12], "strokeDashOffset": 7.5, "xOffset": 73.5},
   "encoding": {"x": {"field": "g", "type": "nominal", "scale": {"domain": ["Intermediate 10°C FRH","Intermediate 10°C IGH","Intermediate 12°C FRH","Intermediate 12°C IGH","Intermediate 14°C FRH","Intermediate 14°C IGH","High 10°C FRH","High 10°C IGH","High 12°C FRH","High 12°C IGH","High 14°C FRH","High 14°C IGH"], "paddingInner": 0.29, "paddingOuter": 0.345}, "axis": null}, "y": {"field": "cpm", "type": "quantitative"}, "y2": {"datum": 0}}},
  {"data": {"name": "bars"}, "transform": [{"filter": "isValid(datum.lo)"}],
   "mark": {"type": "rule", "color": "black", "strokeWidth": 5},
   "encoding": {"x": {"field": "g", "type": "nominal", "scale": {"domain": ["Intermediate 10°C FRH","Intermediate 10°C IGH","Intermediate 12°C FRH","Intermediate 12°C IGH","Intermediate 14°C FRH","Intermediate 14°C IGH","High 10°C FRH","High 10°C IGH","High 12°C FRH","High 12°C IGH","High 14°C FRH","High 14°C IGH"], "paddingInner": 0.29, "paddingOuter": 0.345}, "axis": null}, "y": {"field": "lo", "type": "quantitative"}, "y2": {"field": "hi"}}},
  {"data": {"name": "bars"}, "transform": [{"filter": "isValid(datum.lo)"}],
   "mark": {"type": "tick", "orient": "horizontal", "color": "black", "size": 30, "thickness": 4, "opacity": 1},
   "encoding": {"x": {"field": "g", "type": "nominal", "scale": {"domain": ["Intermediate 10°C FRH","Intermediate 10°C IGH","Intermediate 12°C FRH","Intermediate 12°C IGH","Intermediate 14°C FRH","Intermediate 14°C IGH","High 10°C FRH","High 10°C IGH","High 12°C FRH","High 12°C IGH","High 14°C FRH","High 14°C IGH"], "paddingInner": 0.29, "paddingOuter": 0.345}, "axis": null}, "y": {"field": "lo", "type": "quantitative"}}},
  {"data": {"name": "bars"}, "transform": [{"filter": "isValid(datum.hi)"}],
   "mark": {"type": "tick", "orient": "horizontal", "color": "black", "size": 30, "thickness": 4, "opacity": 1},
   "encoding": {"x": {"field": "g", "type": "nominal", "scale": {"domain": ["Intermediate 10°C FRH","Intermediate 10°C IGH","Intermediate 12°C FRH","Intermediate 12°C IGH","Intermediate 14°C FRH","Intermediate 14°C IGH","High 10°C FRH","High 10°C IGH","High 12°C FRH","High 12°C IGH","High 14°C FRH","High 14°C IGH"], "paddingInner": 0.29, "paddingOuter": 0.345}, "axis": null}, "y": {"field": "hi", "type": "quantitative"}}},
  {"data": {"name": "bars"},
   "mark": {"type": "text", "align": "center", "baseline": "alphabetic", "dx": -43},
   "encoding": {"x": {"field": "g", "type": "nominal", "scale": {"domain": ["Intermediate 10°C FRH","Intermediate 10°C IGH","Intermediate 12°C FRH","Intermediate 12°C IGH","Intermediate 14°C FRH","Intermediate 14°C IGH","High 10°C FRH","High 10°C IGH","High 12°C FRH","High 12°C IGH","High 14°C FRH","High 14°C IGH"], "paddingInner": 0.29, "paddingOuter": 0.345}, "axis": null}, "y": {"datum": -6.21, "type": "quantitative"}, "text": {"field": "mdd", "type": "quantitative", "format": ".1f"}}},
  {"data": {"name": "bars"},
   "mark": {"type": "text", "align": "center", "baseline": "alphabetic", "dx": -43},
   "encoding": {"x": {"field": "g", "type": "nominal", "scale": {"domain": ["Intermediate 10°C FRH","Intermediate 10°C IGH","Intermediate 12°C FRH","Intermediate 12°C IGH","Intermediate 14°C FRH","Intermediate 14°C IGH","High 10°C FRH","High 10°C IGH","High 12°C FRH","High 12°C IGH","High 14°C FRH","High 14°C IGH"], "paddingInner": 0.29, "paddingOuter": 0.345}, "axis": null}, "y": {"datum": -13.91, "type": "quantitative"}, "text": {"field": "pop"}}},
  {"data": {"name": "bars"}, "transform": [{"filter": "datum.pop === 'FRH'"}],
   "mark": {"type": "text", "align": "center", "baseline": "alphabetic", "dx": 95},
   "encoding": {"x": {"field": "g", "type": "nominal", "scale": {"domain": ["Intermediate 10°C FRH","Intermediate 10°C IGH","Intermediate 12°C FRH","Intermediate 12°C IGH","Intermediate 14°C FRH","Intermediate 14°C IGH","High 10°C FRH","High 10°C IGH","High 12°C FRH","High 12°C IGH","High 14°C FRH","High 14°C IGH"], "paddingInner": 0.29, "paddingOuter": 0.345}, "axis": null}, "y": {"datum": -29.66, "type": "quantitative"}, "text": {"field": "temp"}}},
  {"data": {"name": "bars"}, "transform": [{"filter": "datum.pop === 'FRH' && datum.temp === '12°C'"}],
   "mark": {"type": "text", "align": "center", "baseline": "alphabetic", "dx": 95},
   "encoding": {"x": {"field": "g", "type": "nominal", "scale": {"domain": ["Intermediate 10°C FRH","Intermediate 10°C IGH","Intermediate 12°C FRH","Intermediate 12°C IGH","Intermediate 14°C FRH","Intermediate 14°C IGH","High 10°C FRH","High 10°C IGH","High 12°C FRH","High 12°C IGH","High 14°C FRH","High 14°C IGH"], "paddingInner": 0.29, "paddingOuter": 0.345}, "axis": null}, "y": {"datum": -45.23, "type": "quantitative"}, "text": {"field": "conc"}}},
  {"data": {"name": "braces"},
   "mark": {"type": "line", "color": "black", "strokeWidth": 3.5},
   "encoding": {"x": {"field": "u", "type": "quantitative", "scale": {"domain": [-0.70, 11.70], "nice": false, "zero": false}, "axis": null}, "y": {"field": "y", "type": "quantitative"}, "detail": {"field": "b"}, "order": {"value": null}}},
  {"data": {"values": [{"t": "Mean days to death"}]},
   "mark": {"type": "text", "align": "left", "baseline": "alphabetic"},
   "encoding": {"x": {"datum": -3.38, "type": "quantitative", "scale": {"domain": [-0.70, 11.70], "nice": false, "zero": false}, "axis": null}, "y": {"datum": -6.21, "type": "quantitative"}, "text": {"field": "t"}}},
  {"data": {"values": [{"t": "Chinook population"}]},
   "mark": {"type": "text", "align": "left", "baseline": "alphabetic"},
   "encoding": {"x": {"datum": -3.38, "type": "quantitative", "scale": {"domain": [-0.70, 11.70], "nice": false, "zero": false}, "axis": null}, "y": {"datum": -13.91, "type": "quantitative"}, "text": {"field": "t"}}},
  {"data": {"values": [{"t": "Water Temperature"}]},
   "mark": {"type": "text", "align": "left", "baseline": "alphabetic"},
   "encoding": {"x": {"datum": -3.38, "type": "quantitative", "scale": {"domain": [-0.70, 11.70], "nice": false, "zero": false}, "axis": null}, "y": {"datum": -29.66, "type": "quantitative"}, "text": {"field": "t"}}},
  {"data": {"values": [{"t": "Virus Concentration"}]},
   "mark": {"type": "text", "align": "left", "baseline": "alphabetic"},
   "encoding": {"x": {"datum": -3.38, "type": "quantitative", "scale": {"domain": [-0.70, 11.70], "nice": false, "zero": false}, "axis": null}, "y": {"datum": -45.23, "type": "quantitative"}, "text": {"field": "t"}}},
  {"data": {"values": [{"t": "C."}]},
   "mark": {"type": "text", "fontWeight": "bold", "fontSize": 60, "align": "left", "baseline": "alphabetic"},
   "encoding": {"x": {"datum": -1.91, "type": "quantitative", "scale": {"domain": [-0.70, 11.70], "nice": false, "zero": false}, "axis": null}, "y": {"datum": 105.86, "type": "quantitative"}, "text": {"field": "t"}}}
 ]
}
]
}
